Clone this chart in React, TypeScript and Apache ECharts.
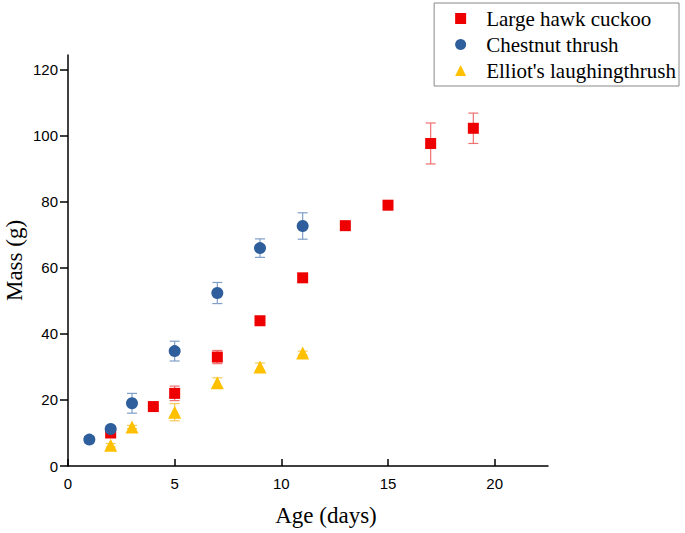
import React, { useEffect, useRef } from "react";
import * as echarts from "echarts";

const cuckooDays = [2, 4, 5, 7, 9, 11, 13, 15, 17, 19];
const cuckooMass = [10, 18, 22, 33, 44, 57, 72.8, 79, 97.7, 102.3];
const cuckooErr = [1, 0.5, 2.2, 2, 0.5, 1.2, 0.5, 1.2, 6.2, 4.6];

const thrushDays = [1, 2, 3, 5, 7, 9, 11];
const thrushMass = [8, 11.2, 19, 34.8, 52.4, 66, 72.7];
const thrushErr = [1, 1, 3, 3, 3.2, 2.8, 4];

const laughDays = [2, 3, 5, 7, 9, 11];
const laughMass = [6.3, 11.8, 16.3, 25.2, 30, 34.2];
const laughErr = [0.5, 0.5, 2.6, 1.5, 1.2, 0.6];

const xTicks = [0, 5, 10, 15, 20];
const yTicks = [0, 20, 40, 60, 80, 100, 120];

const names = ["Large hawk cuckoo", "Chestnut thrush", "Elliot's laughingthrush"];
const colors = ["#ee0000", "#2e5e9c", "#ffc000"];
const errColors = ["#f07070", "#7f9fc8", "#f5c85a"];

function errSeries(days: number[], mass: number[], err: number[], color: string) {
  return {
    type: "custom",
    silent: true,
    z: 1,
    data: days.map((d, i) => [d, mass[i] - err[i], mass[i] + err[i]]),
    renderItem: (params: any, api: any) => {
      const x = api.value(0);
      const lo = api.coord([x, api.value(1)]);
      const hi = api.coord([x, api.value(2)]);
      const hw = 5;
      const style = { stroke: color, lineWidth: 1.2 };
      return {
        type: "group",
        children: [
          { type: "line", shape: { x1: lo[0], y1: lo[1], x2: hi[0], y2: hi[1] }, style },
          { type: "line", shape: { x1: lo[0] - hw, y1: lo[1], x2: lo[0] + hw, y2: lo[1] }, style },
          { type: "line", shape: { x1: hi[0] - hw, y1: hi[1], x2: hi[0] + hw, y2: hi[1] }, style },
        ],
      };
    },
  };
}

export default function App() {
  const ref = useRef<HTMLDivElement>(null);
  useEffect(() => {
    document.body.style.margin = "0";
    if (!ref.current) return;
    const chart = echarts.init(ref.current, null, { renderer: "svg" });
    chart.setOption({
      animation: false,
      backgroundColor: "#ffffff",
      grid: { left: 68, right: 137, top: 55, bottom: 67, outerBoundsMode: "none", containLabel: false },
      legend: {
        data: [
          { name: names[0], icon: "rect" },
          { name: names[1], icon: "circle" },
          { name: names[2], icon: "triangle" },
        ],
        orient: "vertical",
        right: 6,
        top: 3,
        itemWidth: 11,
        itemHeight: 11,
        itemGap: 5,
        padding: [5, 3, 5, 21],
        borderColor: "#888888",
        borderWidth: 1,
        textStyle: { fontFamily: "Liberation Serif", fontSize: 21, lineHeight: 21, color: "#000", padding: [0, 0, 0, 15] },
      },
      xAxis: {
        type: "value",
        min: 0,
        max: 22.5,
        name: "Age (days)",
        nameLocation: "middle",
        nameGap: 38,
        nameMoveOverlap: false,
        nameTextStyle: { fontFamily: "Liberation Serif", fontSize: 23, color: "#000", padding: [0, 0, 0, 36] },
        splitLine: { show: false },
        axisLine: { show: true, lineStyle: { color: "#000", width: 1.5 } },
        axisTick: { show: true, inside: true, length: 7, customValues: xTicks, lineStyle: { color: "#000", width: 1.5 } },
        axisLabel: { customValues: xTicks, margin: 10, fontFamily: "Liberation Sans", fontSize: 15, color: "#000" },
      },
      yAxis: {
        type: "value",
        min: 0,
        max: 124.5,
        name: "Mass (g)",
        nameLocation: "middle",
        nameGap: 42,
        nameMoveOverlap: false,
        nameTextStyle: { fontFamily: "Liberation Serif", fontSize: 23, color: "#000" },
        splitLine: { show: false },
        axisLine: { show: true, lineStyle: { color: "#000", width: 1.5 } },
        axisTick: { show: true, inside: false, length: 8, customValues: yTicks, lineStyle: { color: "#000", width: 1.5 } },
        axisLabel: { customValues: yTicks, margin: 10, fontFamily: "Liberation Sans", fontSize: 15, color: "#000" },
      },
      series: [
        errSeries(cuckooDays, cuckooMass, cuckooErr, errColors[0]),
        errSeries(thrushDays, thrushMass, thrushErr, errColors[1]),
        errSeries(laughDays, laughMass, laughErr, errColors[2]),
        {
          name: names[0],
          type: "scatter",
          symbol: "rect",
          symbolSize: 11,
          z: 3,
          itemStyle: { color: colors[0], opacity: 1 },
          data: cuckooDays.map((d, i) => [d, cuckooMass[i]]),
        },
        {
          name: names[1],
          type: "scatter",
          symbol: "circle",
          symbolSize: 12,
          z: 3,
          itemStyle: { color: colors[1], opacity: 1 },
          data: thrushDays.map((d, i) => [d, thrushMass[i]]),
        },
        {
          name: names[2],
          type: "scatter",
          symbol: "triangle",
          symbolSize: 13,
          z: 3,
          itemStyle: { color: colors[2], opacity: 1 },
          data: laughDays.map((d, i) => [d, laughMass[i]]),
        },
      ],
    });
    return () => chart.dispose();
  }, []);
  return <div ref={ref} style={{ width: 685, height: 533 }} />;
}
